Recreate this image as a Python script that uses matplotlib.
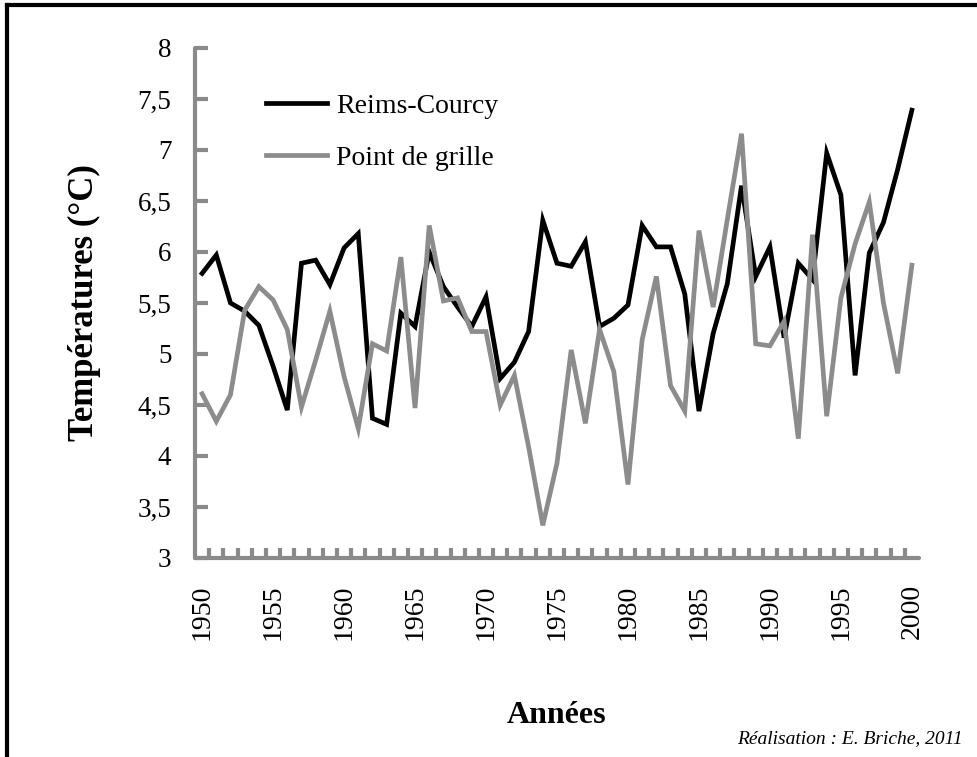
import numpy as np
from matplotlib import pyplot as plt
from matplotlib.lines import Line2D

plt.rcParams["font.family"] = ["Liberation Serif", "DejaVu Serif"]

YEARS = list(range(1950, 2001))

# Mean temperatures (°C), Reims-Courcy station
REIMS = [5.79, 5.97, 5.50, 5.42, 5.28, 4.88, 4.45, 5.89, 5.92, 5.68,
         6.04, 6.18, 4.37, 4.31, 5.40, 5.27, 6.00, 5.66, 5.46, 5.27,
         5.56, 4.76, 4.92, 5.22, 6.31, 5.89, 5.86, 6.10, 5.27, 5.35,
         5.48, 6.26, 6.05, 6.05, 5.59, 4.44, 5.20, 5.69, 6.65, 5.76,
         6.05, 5.16, 5.89, 5.73, 6.97, 6.56, 4.79, 5.99, 6.29, 6.81, 7.39]

# Mean temperatures (°C), nearest model grid point
GRILLE = [4.61, 4.34, 4.60, 5.43, 5.66, 5.53, 5.24, 4.48, 4.94, 5.42,
          4.78, 4.27, 5.10, 5.03, 5.95, 4.47, 6.26, 5.52, 5.55, 5.22,
          5.22, 4.50, 4.79, 4.09, 3.32, 3.93, 5.04, 4.32, 5.24, 4.83,
          3.72, 5.14, 5.76, 4.69, 4.44, 6.21, 5.46, 6.32, 7.16, 5.10,
          5.08, 5.32, 4.17, 6.17, 4.39, 5.55, 6.08, 6.49, 5.50, 4.81, 5.87]

Y_TICKS = [3, 3.5, 4, 4.5, 5, 5.5, 6, 6.5, 7, 7.5, 8]
Y_LABELS = ["3", "3,5", "4", "4,5", "5", "5,5", "6", "6,5", "7", "7,5", "8"]
X_LABEL_YEARS = [1950, 1955, 1960, 1965, 1970, 1975, 1980, 1985, 1990, 1995, 2000]

AXIS_GREY = "#8a8a8a"
LINE_GREY = "#8c8c8c"

fig = plt.figure(figsize=(9.77, 7.57), dpi=100)
ax = fig.add_axes([0.1996, 0.2629, 0.7410, 0.6737])

ax.plot(YEARS, REIMS, color="black", lw=3.4, solid_joinstyle="miter")
ax.plot(YEARS, GRILLE, color=LINE_GREY, lw=3.4, solid_joinstyle="miter")

ax.set_xlim(1949.5, 2000.5)
ax.set_ylim(3, 8)

for side in ("top", "right"):
    ax.spines[side].set_visible(False)
for side in ("left", "bottom"):
    ax.spines[side].set_color(AXIS_GREY)
    ax.spines[side].set_linewidth(3)
    ax.spines[side].set_capstyle("round")

ax.set_yticks(Y_TICKS)
ax.set_yticklabels(Y_LABELS, fontsize=19.5)
ax.tick_params(axis="y", direction="in", length=9, width=3,
               color=AXIS_GREY, pad=17)

# year labels every 5 years, tick marks between every category
ax.set_xticks(X_LABEL_YEARS)
ax.set_xticklabels([str(y) for y in X_LABEL_YEARS], rotation=90, fontsize=20)
ax.tick_params(axis="x", which="major", length=0, pad=19)
ax.set_xticks(np.arange(1950.5, 2000.5, 1.0), minor=True)
ax.tick_params(axis="x", which="minor", direction="in", length=7, width=3,
               color=AXIS_GREY)

ax.set_ylabel("Températures (°C)", fontsize=25, fontweight="bold", labelpad=26)
ax.set_xlabel("Années", fontsize=23, fontweight="bold", labelpad=44)

handles = [Line2D([], [], color="black", lw=3.4),
           Line2D([], [], color=LINE_GREY, lw=3.4)]
ax.legend(handles, ["Reims-Courcy", "Point de grille"], loc="upper left",
          bbox_to_anchor=(0.063, 0.96), frameon=False, fontsize=20,
          handlelength=2.2, handletextpad=0.35, labelspacing=0.95)

fig.text(0.985, 0.013, "Réalisation : E. Briche, 2011", ha="right",
         va="bottom", fontsize=14, style="italic")

# frame along the top and left edges
fig.add_artist(Line2D([0.007, 0.007], [0.0, 0.993], color="black", lw=3,
                      transform=fig.transFigure))
fig.add_artist(Line2D([0.007, 1.0], [0.993, 0.993], color="black", lw=3,
                      transform=fig.transFigure))

fig.savefig("out.png", dpi=100)
